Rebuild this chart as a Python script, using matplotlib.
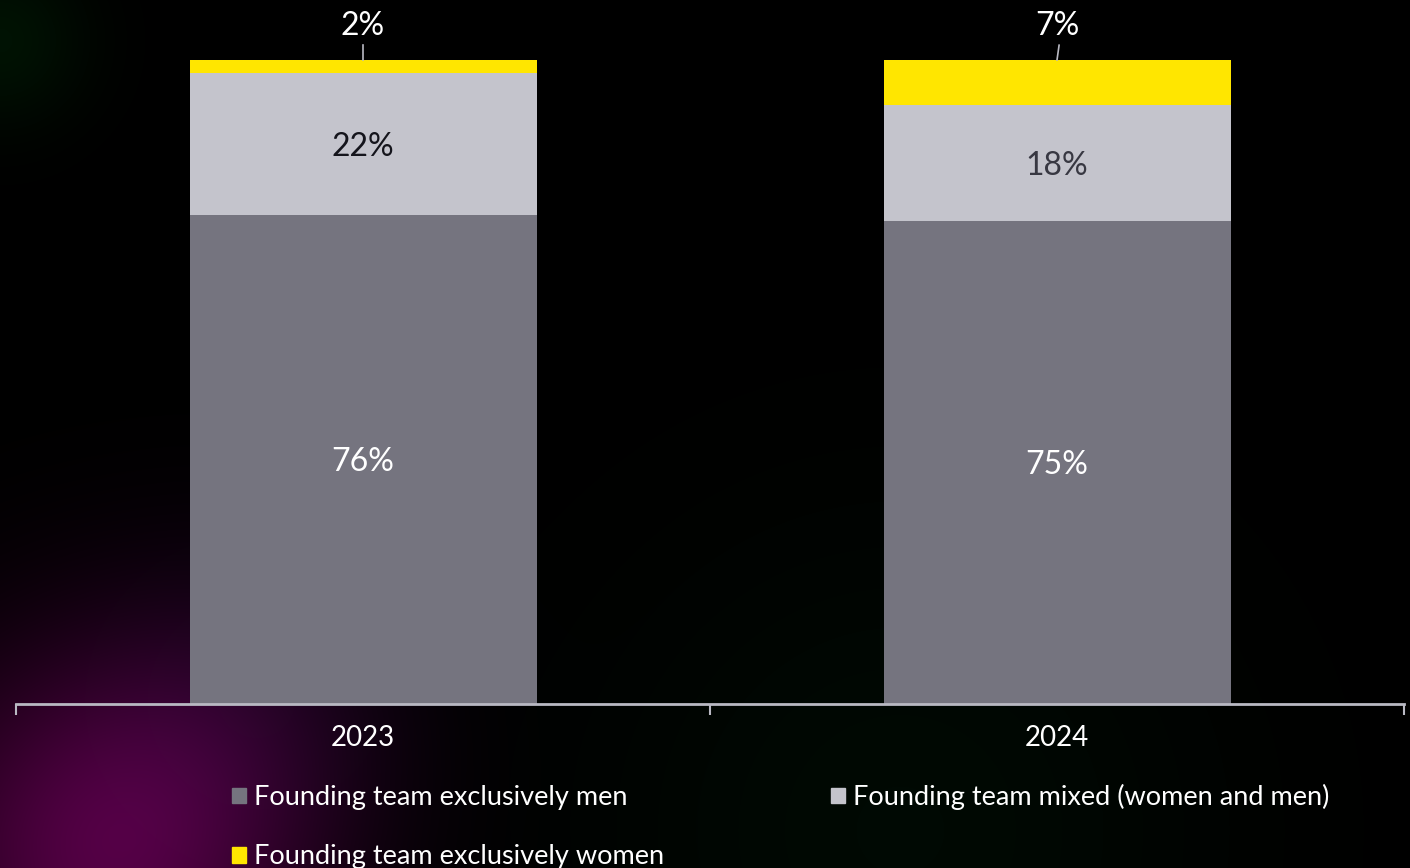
import numpy as np
import matplotlib.pyplot as plt
from matplotlib.patches import Patch

plt.rcParams['font.family'] = ['Lato', 'DejaVu Sans']

years = ['2023', '2024']
men = [76, 75]
mixed = [22, 18]
women = [2, 7]
series_names = ['Founding team exclusively men',
                'Founding team mixed (women and men)',
                'Founding team exclusively women']

c_men = '#75747f'
c_mixed = '#c4c4cc'
c_women = '#ffe600'
axis_col = '#b9b9c3'

W, H = 1410, 868
fig = plt.figure(figsize=(W / 100, H / 100), dpi=100)
fig.patch.set_facecolor('black')

# soft coloured glows behind the chart
bg = fig.add_axes([0, 0, 1, 1], zorder=-10)
yy, xx = np.mgrid[0:H, 0:W]
img = np.zeros((H, W, 3))
def glow(cx, cy, r, rgb, strength):
    d = np.exp(-((xx - cx) ** 2 + (yy - cy) ** 2) / (2 * r ** 2)) * strength
    for k in range(3):
        img[..., k] += d * rgb[k]
glow(110, 850, 140, (0.32, 0.0, 0.26), 1.0)
glow(250, 700, 110, (0.10, 0.02, 0.13), 0.6)
glow(0, 40, 60, (0.0, 0.12, 0.02), 0.6)
glow(900, 830, 220, (0.0, 0.06, 0.02), 0.6)
bg.imshow(np.clip(img, 0, 1), aspect='auto', extent=[0, W, H, 0])
bg.axis('off')

ax = fig.add_axes([16 / W, (H - 704) / H, (1404 - 16) / W, 704 / H])
ax.set_facecolor('none')

x = np.arange(len(years))
bw = 0.5
b1 = ax.bar(x, men, bw, color=c_men, zorder=2)
b2 = ax.bar(x, mixed, bw, bottom=men, color=c_mixed, zorder=2)
bot3 = [m + n for m, n in zip(men, mixed)]
b3 = ax.bar(x, women, bw, bottom=bot3, color=c_women, zorder=2)

ax.set_xlim(-0.5, 1.5)
ax.set_ylim(0, 100 * 704 / 644)

# value labels inside the segments
for i in range(len(years)):
    ax.text(x[i], men[i] / 2, f'{men[i]}%', ha='center', va='center_baseline',
            color='white', fontsize=23)
    ax.text(x[i], men[i] + mixed[i] / 2, f'{mixed[i]}%', ha='center', va='center_baseline',
            color=['#15151c', '#383842'][i], fontsize=23)
    top = bot3[i] + women[i]
    ax.plot([x[i] + 0.003 * i, x[i]], [top + 2.3, top], color=axis_col, lw=1.2, zorder=3)
    ax.text(x[i], top + 5.8, f'{women[i]}%', ha='center', va='center_baseline',
            color='white', fontsize=23)

for s in ['top', 'right', 'left']:
    ax.spines[s].set_visible(False)
ax.spines['bottom'].set_color(axis_col)
ax.spines['bottom'].set_linewidth(2)
ax.set_yticks([])
ax.set_xticks([-0.5, 0.5, 1.5])
ax.set_xticklabels([])
ax.tick_params(axis='x', length=8, width=1.5, color=axis_col)
ax.set_xticks(x, minor=True)
ax.set_xticklabels(years, minor=True)
ax.tick_params(axis='x', which='minor', length=0, pad=15, labelsize=20, labelcolor='white')

handles = [Patch(color=c_men), Patch(color=c_women), Patch(color=c_mixed)]
labels = [series_names[0], series_names[2], series_names[1]]
fig.legend(handles, labels, ncol=2, loc='upper left', bbox_to_anchor=(232 / W, 1 - 784 / H),
           frameon=False, fontsize=19.5, labelcolor='white', handlelength=0.52,
           handleheight=0.52, handletextpad=0.3, labelspacing=1.26, columnspacing=6.15,
           borderaxespad=0, borderpad=0)

fig.savefig('out.png', dpi=100, facecolor='black')
